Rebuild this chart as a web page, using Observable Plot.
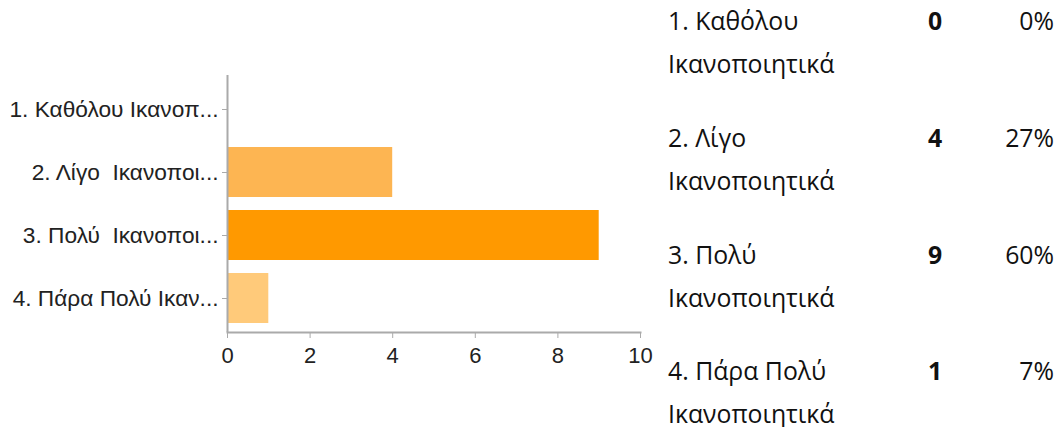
<!DOCTYPE html>
<html>
<head>
<meta charset="utf-8">
<script src="https://cdn.jsdelivr.net/npm/d3@7"></script>
<script src="https://cdn.jsdelivr.net/npm/@observablehq/plot@0.6"></script>
<style>
  html, body { margin: 0; padding: 0; background: #fff; }
  #wrap { position: relative; width: 1058px; height: 427px; overflow: hidden; }
  #chart { position: absolute; left: 0; top: 0; }
  #chart g[aria-label="y-axis tick label"] { font-size: 22.7px; }
  #chart g[aria-label="x-axis tick label"] { font-size: 22px; }
  #table { position: absolute; left: 668px; top: 0; width: 386px; font-family: "Open Sans", "Noto Sans", sans-serif; font-size: 24.8px; color: #111; }
  .row { position: absolute; left: 0; width: 386px; }
  .lbl { position: absolute; left: 0; width: 220px; line-height: 43px; white-space: nowrap; }
  .cnt { position: absolute; left: 252px; width: 30px; text-align: center; font-weight: bold; line-height: 43px; }
  .pct { position: absolute; right: 0; text-align: right; line-height: 43px; }
</style>
</head>
<body>
<div id="wrap">
  <div id="chart"></div>
  <div id="table"></div>
</div>
<script>
const axisLabels = ["1. Καθόλου Ικανοπ...", "2. Λίγο  Ικανοποι...", "3. Πολύ  Ικανοποι...", "4. Πάρα Πολύ Ικαν..."];
const tableLabels1 = ["1. Καθόλου", "2. Λίγο", "3. Πολύ", "4. Πάρα Πολύ"];
const tableLabels2 = ["Ικανοποιητικά", "Ικανοποιητικά", "Ικανοποιητικά", "Ικανοποιητικά"];
const counts = [0, 4, 9, 1];
const percents = ["0%", "27%", "60%", "7%"];
const barColors = ["#fdb552", "#fdb552", "#ff9900", "#ffca7a"];
const xTicks = [0, 2, 4, 6, 8, 10];

const data = axisLabels.map((label, i) => ({label, value: counts[i], color: barColors[i]}));

const chart = Plot.plot({
  width: 660,
  height: 380,
  marginLeft: 227,
  marginRight: 20,
  marginTop: 75,
  marginBottom: 48,
  style: {fontFamily: "'Liberation Sans', Arial, sans-serif", fontSize: "20px", color: "#222", background: "white"},
  x: {domain: [0, 10], ticks: xTicks, label: null, axis: null},
  y: {domain: axisLabels, label: null, axis: null, insetTop: 2, insetBottom: 2, paddingInner: 0.2, paddingOuter: 0.1},
  marks: [
    Plot.barX(data, {x: "value", y: "label", fill: "color"}),
    Plot.axisY({tickSize: 5, tickPadding: 4, stroke: "#aaa", color: "#222", label: null}),
    Plot.axisX({ticks: xTicks, tickSize: 6, tickPadding: 9, stroke: "#aaa", color: "#222", label: null}),
    Plot.ruleX([0], {stroke: "#aaa", strokeWidth: 2}),
    Plot.frame({anchor: "bottom", stroke: "#aaa", strokeWidth: 2})
  ]
});
document.getElementById("chart").appendChild(chart);

const table = document.getElementById("table");
const rowTops = [-1, 116, 233, 349];
counts.forEach((c, i) => {
  const row = document.createElement("div");
  row.className = "row";
  row.style.top = rowTops[i] + "px";
  row.innerHTML = `<div class="lbl">${tableLabels1[i]}<br>${tableLabels2[i]}</div><div class="cnt">${c}</div><div class="pct">${percents[i]}</div>`;
  table.appendChild(row);
});
</script>
</body>
</html>
